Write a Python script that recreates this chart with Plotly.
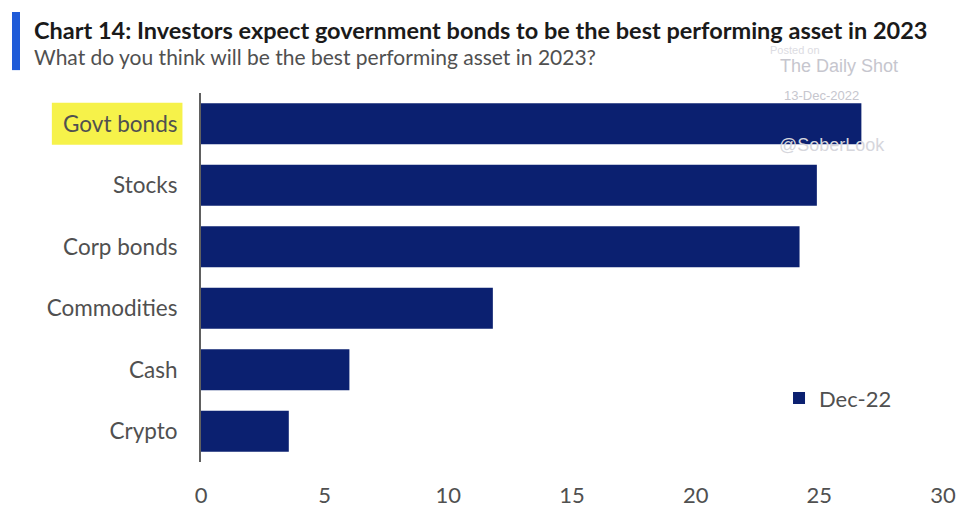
import plotly.graph_objects as go

categories = ["Govt bonds", "Stocks", "Corp bonds", "Commodities", "Cash", "Crypto"]
values = [26.7, 24.9, 24.2, 11.8, 6.0, 3.55]
series_name = "Dec-22"
x_ticks = [0, 5, 10, 15, 20, 25, 30]

FONT = "Lato, Roboto, sans-serif"
NAVY = "#0b2070"

fig = go.Figure()
fig.add_trace(go.Bar(
    y=categories, x=values, orientation="h", name=series_name,
    marker=dict(color=NAVY, line=dict(width=0)),
    showlegend=True,
))

fig.update_layout(
    width=956, height=512,
    margin=dict(l=201, r=13, t=93, b=50),
    paper_bgcolor="white", plot_bgcolor="white",
    bargap=0.33,
    font=dict(family=FONT, color="#505050", size=21),
    xaxis=dict(range=[0, 30], tickvals=x_ticks, showgrid=False, zeroline=False,
               showline=False, ticks="", tickfont=dict(size=22, color="#505050"),
               ticklabelstandoff=18, fixedrange=True, automargin=False),
    yaxis=dict(categoryorder="array", categoryarray=categories[::-1],
               showgrid=False, zeroline=False, showline=True, linecolor="#606060",
               linewidth=2, ticks="", ticklabelstandoff=17, automargin=False,
               tickfont=dict(size=22.5, color="#505050")),
    legend=dict(x=0.779, y=0.173, xanchor="left", yanchor="middle",
                bgcolor="rgba(0,0,0,0)", font=dict(size=22, color="#505050"),
                itemwidth=30),
    showlegend=True,
)

# Highlight box behind "Govt bonds"
fig.add_shape(type="rect", xref="paper", yref="y", x0=-0.201, x1=-0.025,
              y0=-0.34 + 5, y1=0.34 + 5, fillcolor="#f6f24a",
              line=dict(width=0), layer="below")

# Title bar accent
fig.add_shape(type="rect", xref="paper", yref="paper", x0=-0.2547, x1=-0.2439,
              y0=1.062, y1=1.2195, fillcolor="#1f5bd8", line=dict(width=0))

fig.add_annotation(text="<b>Chart 14: Investors expect government bonds to be the best performing asset in 2023</b>",
                   xref="paper", yref="paper", x=-0.2276, y=1.171, xanchor="left", yanchor="middle",
                   showarrow=False, font=dict(size=23.5, color="#1a1a1a", family=FONT))
fig.add_annotation(text="What do you think will be the best performing asset in 2023?",
                   xref="paper", yref="paper", x=-0.2276, y=1.098, xanchor="left", yanchor="middle",
                   showarrow=False, font=dict(size=21, color="#505050", family=FONT))

# Watermark
WM = "Arial, Liberation Sans, sans-serif"
fig.add_annotation(text="Posted on", xref="paper", yref="paper", x=0.80, y=1.116,
                   xanchor="center", yanchor="middle", showarrow=False,
                   font=dict(size=11, color="#dcdce2", family=WM))
fig.add_annotation(text="The Daily Shot", xref="paper", yref="paper", x=0.860, y=1.072,
                   xanchor="center", yanchor="middle", showarrow=False,
                   font=dict(size=18, color="#c6c6ce", family=WM))
fig.add_annotation(text="13-Dec-2022", xref="paper", yref="paper", x=0.836, y=0.992,
                   xanchor="center", yanchor="middle", showarrow=False,
                   font=dict(size=13, color="#c6c6ce", family=WM))
fig.add_annotation(text="@SoberLook", xref="paper", yref="paper", x=0.850, y=0.859,
                   xanchor="center", yanchor="middle", showarrow=False,
                   font=dict(size=18, color="#d6d6dc", family=WM))

fig.write_html("out.html")
